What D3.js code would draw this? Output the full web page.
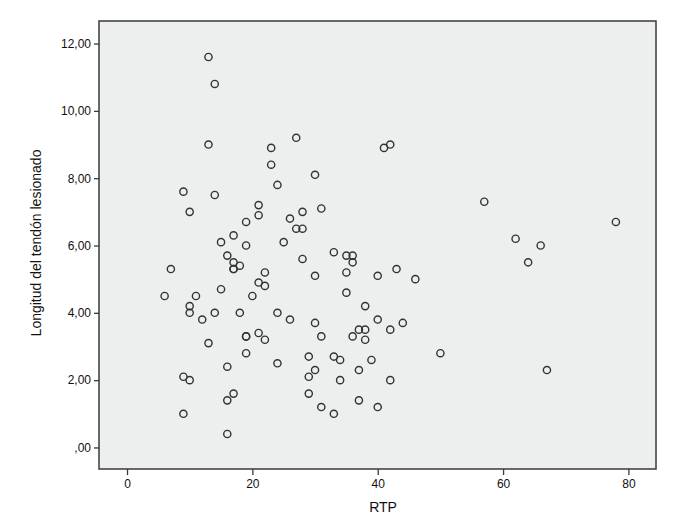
<!DOCTYPE html>
<html>
<head>
<meta charset="utf-8">
<script src="https://d3js.org/d3.v7.min.js"></script>
<style>
  body { margin: 0; background: #fff; }
  text { font-family: "Liberation Sans", Arial, sans-serif; fill: #111; }
</style>
</head>
<body>
<div id="chart"></div>
<script>
var width = 700,
    height = 522;

// RTP (x) and tendon length (y), one entry per case
var rtp = [13, 14, 13, 27, 23, 41, 42, 23, 30, 24,
           9, 14, 57, 21, 31, 10, 28, 21, 26, 19,
           78, 27, 28, 17, 62, 15, 25, 19, 66, 33,
           16, 35, 36, 28, 17, 36, 64, 18, 17, 17,
           7, 43, 22, 35, 30, 40, 46, 21, 22, 15,
           35, 6, 11, 20, 10, 38, 10, 14, 18, 24,
           12, 26, 40, 30, 44, 37, 38, 42, 21, 19,
           19, 31, 36, 22, 38, 13, 19, 50, 29, 33,
           34, 39, 24, 16, 30, 37, 67, 9, 29, 10,
           34, 42, 17, 29, 16, 37, 31, 40, 9, 33, 16];

var longitud = [11.6, 10.8, 9.0, 9.2, 8.9, 8.9, 9.0, 8.4, 8.1, 7.8,
                7.6, 7.5, 7.3, 7.2, 7.1, 7.0, 7.0, 6.9, 6.8, 6.7,
                6.7, 6.5, 6.5, 6.3, 6.2, 6.1, 6.1, 6.0, 6.0, 5.8,
                5.7, 5.7, 5.7, 5.6, 5.5, 5.5, 5.5, 5.4, 5.3, 5.3,
                5.3, 5.3, 5.2, 5.2, 5.1, 5.1, 5.0, 4.9, 4.8, 4.7,
                4.6, 4.5, 4.5, 4.5, 4.2, 4.2, 4.0, 4.0, 4.0, 4.0,
                3.8, 3.8, 3.8, 3.7, 3.7, 3.5, 3.5, 3.5, 3.4, 3.3,
                3.3, 3.3, 3.3, 3.2, 3.2, 3.1, 2.8, 2.8, 2.7, 2.7,
                2.6, 2.6, 2.5, 2.4, 2.3, 2.3, 2.3, 2.1, 2.1, 2.0,
                2.0, 2.0, 1.6, 1.6, 1.4, 1.4, 1.2, 1.2, 1.0, 1.0, 0.4];

var xTicks = [0, 20, 40, 60, 80];
var yTicks = [0, 2, 4, 6, 8, 10, 12];

var xTitle = "RTP",
    yTitle = "Longitud del tendón lesionado";

var points = rtp.map(function(d, i) {
  return { x: d, y: longitud[i] };
});

var plot = { left: 99, right: 656, top: 21, bottom: 469 };

var x = d3.scaleLinear().domain([-4.47, 84.4]).range([plot.left, plot.right]);
var y = d3.scaleLinear().domain([-0.64, 12.67]).range([plot.bottom, plot.top]);

var svg = d3.select("#chart")
  .append("svg")
  .attr("width", width)
  .attr("height", height);

// plot background + frame
svg.append("rect")
  .attr("x", plot.left)
  .attr("y", plot.top)
  .attr("width", plot.right - plot.left)
  .attr("height", plot.bottom - plot.top)
  .attr("fill", "#edeeee")
  .attr("stroke", "#3a3a3a")
  .attr("stroke-width", 1.5);

// spss style comma decimals: 12,00 ... ,00
var fmtY = function(d) {
  var s = d3.format(".2f")(d).replace(".", ",");
  return s.indexOf("0,") === 0 ? s.slice(1) : s;
};

var xAxis = svg.append("g")
  .attr("transform", "translate(0," + plot.bottom + ")")
  .call(d3.axisBottom(x).tickValues(xTicks).tickSize(6).tickPadding(4));

var yAxis = svg.append("g")
  .attr("transform", "translate(" + plot.left + ",0)")
  .call(d3.axisLeft(y).tickValues(yTicks).tickFormat(fmtY).tickSize(5).tickPadding(3));

[xAxis, yAxis].forEach(function(a) {
  a.select(".domain").remove();
  a.selectAll(".tick line").attr("stroke", "#3a3a3a").attr("stroke-width", 1.3);
  a.selectAll(".tick text")
    .style("font-family", "'Liberation Sans', Arial, sans-serif")
    .style("font-size", "12px")
    .attr("fill", "#111");
});

svg.append("text")
  .attr("x", 383)
  .attr("y", 512)
  .attr("text-anchor", "middle")
  .style("font-size", "14px")
  .text(xTitle);

svg.append("text")
  .attr("transform", "translate(41,243) rotate(-90)")
  .attr("text-anchor", "middle")
  .style("font-size", "14px")
  .text(yTitle);

svg.selectAll(".dot")
  .data(points)
  .enter().append("circle")
  .attr("class", "dot")
  .attr("cx", function(d) { return x(d.x); })
  .attr("cy", function(d) { return y(d.y); })
  .attr("r", 3.6)
  .attr("fill", "none")
  .attr("stroke", "#333")
  .attr("stroke-width", 1.4);
</script>
</body>
</html>
